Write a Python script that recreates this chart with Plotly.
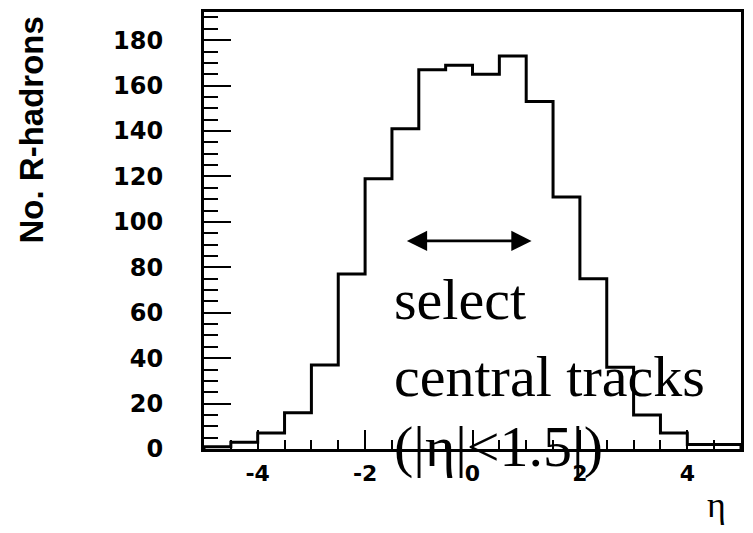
import plotly.graph_objects as go

# ---- data ----
bin_edges = [-5.0, -4.5, -4.0, -3.5, -3.0, -2.5, -2.0, -1.5, -1.0, -0.5, 0.0,
             0.5, 1.0, 1.5, 2.0, 2.5, 3.0, 3.5, 4.0, 4.5, 5.0]
counts = [1, 3, 7, 16, 37, 77, 119, 141, 167, 169, 165,
          173, 153, 111, 75, 36, 15, 7, 2, 2]

x_tickvals = [-4, -2, 0, 2, 4]
x_ticktext = ["-4", "-2", "0", "2", "4"]
y_tickvals = [0, 20, 40, 60, 80, 100, 120, 140, 160, 180]
y_ticktext = [str(v) for v in y_tickvals]

arrow_from = -1.25
arrow_to = 1.1
arrow_y = 91.6

text_lines = ["select", "central tracks", "(|η|<1.5|)"]
text_x = -1.5
text_y = [65.7, 32.0, 0.9]

# ---- step histogram ----
step_x = [bin_edges[0]] + bin_edges
step_y = [0] + counts + [counts[-1]]

fig = go.Figure()
fig.add_trace(go.Scatter(
    x=step_x, y=step_y, mode="lines", line_shape="hv",
    line=dict(color="black", width=3), hoverinfo="skip", showlegend=False,
))
fig.add_trace(go.Scatter(
    x=[bin_edges[-1], bin_edges[-1]], y=[counts[-1], 0], mode="lines",
    line=dict(color="black", width=3), hoverinfo="skip", showlegend=False,
))

annotations = []
# double arrow
annotations.append(dict(
    x=arrow_to, y=arrow_y, ax=arrow_from, ay=arrow_y,
    xref="x", yref="y", axref="x", ayref="y",
    showarrow=True, arrowside="end+start", arrowhead=2,
    arrowwidth=2.7, arrowsize=1.5, arrowcolor="black", text="",
))
for line, yv in zip(text_lines, text_y):
    annotations.append(dict(
        x=text_x, y=yv, xref="x", yref="y", text=line, showarrow=False,
        xanchor="left", yanchor="middle",
        font=dict(family="Liberation Serif", size=58, color="black"),
    ))
# y title
annotations.append(dict(
    x=-0.322, y=0.729, xref="paper", yref="paper", text="No. R-hadrons",
    textangle=-90, showarrow=False, xanchor="center", yanchor="middle",
    font=dict(family="Liberation Sans", size=33, color="black", weight="bold"),
))
# x title
annotations.append(dict(
    x=0.955, y=-0.128, xref="paper", yref="paper", text="η",
    showarrow=False, xanchor="center", yanchor="middle",
    font=dict(family="Liberation Serif", size=36, color="black"),
))

fig.update_layout(
    width=753, height=533,
    margin=dict(l=204, r=9, t=10, b=84),
    paper_bgcolor="white", plot_bgcolor="white",
    annotations=annotations,
    xaxis=dict(
        range=[-5, 5], showgrid=False, zeroline=False,
        showline=True, linecolor="black", linewidth=3, mirror=True,
        ticks="inside", ticklen=19, tickwidth=2, tickcolor="black",
        tickvals=x_tickvals, ticktext=x_ticktext,
        minor=dict(ticks="inside", ticklen=9, tickwidth=2, tickcolor="black", dtick=0.5, showgrid=False),
        tickfont=dict(family="DejaVu Sans", size=22, color="black", weight="bold"),
        ticklabelstandoff=3,
    ),
    yaxis=dict(
        range=[0, 192.4], showgrid=False, zeroline=False,
        showline=True, linecolor="black", linewidth=3, mirror=True,
        ticks="inside", ticklen=27, tickwidth=2, tickcolor="black",
        tickvals=y_tickvals, ticktext=y_ticktext,
        minor=dict(ticks="inside", ticklen=14, tickwidth=2, tickcolor="black", dtick=5, showgrid=False),
        tickfont=dict(family="DejaVu Sans", size=24, color="black", weight="bold"),
        ticklabelstandoff=33,
    ),
)

fig.write_html("out.html")
